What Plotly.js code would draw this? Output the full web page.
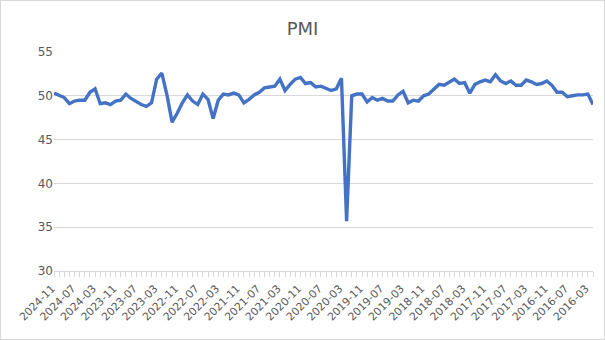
<!DOCTYPE html>
<html>
<head>
<meta charset="utf-8">
<script src="https://cdn.plot.ly/plotly-3.0.1.min.js"></script>
<style>
  html, body { margin: 0; padding: 0; background: #fff; }
  #wrap { position: relative; width: 605px; height: 340px; }
  #chart { width: 605px; height: 340px; }
  #frame { position: absolute; left: 0; top: 0; width: 605px; height: 340px; box-sizing: border-box; border: 1px solid #d9d9d9; pointer-events: none; }
</style>
</head>
<body>
<div id="wrap"><div id="chart"></div><div id="frame"></div></div>
<script>
// Months, newest first (as in the reference axis)
const months = [
  "2024-11","2024-10","2024-09","2024-08","2024-07","2024-06","2024-05","2024-04","2024-03","2024-02","2024-01",
  "2023-12","2023-11","2023-10","2023-09","2023-08","2023-07","2023-06","2023-05","2023-04","2023-03","2023-02","2023-01",
  "2022-12","2022-11","2022-10","2022-09","2022-08","2022-07","2022-06","2022-05","2022-04","2022-03","2022-02","2022-01",
  "2021-12","2021-11","2021-10","2021-09","2021-08","2021-07","2021-06","2021-05","2021-04","2021-03","2021-02","2021-01",
  "2020-12","2020-11","2020-10","2020-09","2020-08","2020-07","2020-06","2020-05","2020-04","2020-03","2020-02","2020-01",
  "2019-12","2019-11","2019-10","2019-09","2019-08","2019-07","2019-06","2019-05","2019-04","2019-03","2019-02","2019-01",
  "2018-12","2018-11","2018-10","2018-09","2018-08","2018-07","2018-06","2018-05","2018-04","2018-03","2018-02","2018-01",
  "2017-12","2017-11","2017-10","2017-09","2017-08","2017-07","2017-06","2017-05","2017-04","2017-03","2017-02","2017-01",
  "2016-12","2016-11","2016-10","2016-09","2016-08","2016-07","2016-06","2016-05","2016-04","2016-03","2016-02"
];
const pmi = [
  50.3,50.1,49.8,49.1,49.4,49.5,49.5,50.4,50.8,49.1,49.2,
  49.0,49.4,49.5,50.2,49.7,49.3,49.0,48.8,49.2,51.9,52.6,50.1,
  47.0,48.0,49.2,50.1,49.4,49.0,50.2,49.6,47.4,49.5,50.2,50.1,
  50.3,50.1,49.2,49.6,50.1,50.4,50.9,51.0,51.1,51.9,50.6,51.3,
  51.9,52.1,51.4,51.5,51.0,51.1,50.9,50.6,50.8,52.0,35.7,50.0,
  50.2,50.2,49.3,49.8,49.5,49.7,49.4,49.4,50.1,50.5,49.2,49.5,
  49.4,50.0,50.2,50.8,51.3,51.2,51.5,51.9,51.4,51.5,50.3,51.3,
  51.6,51.8,51.6,52.4,51.7,51.4,51.7,51.2,51.2,51.8,51.6,51.3,
  51.4,51.7,51.2,50.4,50.4,49.9,50.0,50.1,50.1,50.2,49.0
];
const labelEvery = 4;
const yTicks = [30, 35, 40, 45, 50, 55];

const xIdx = months.map((m, i) => i);
const tickIdx = xIdx.filter(i => i % labelEvery === 0);
const tickText = tickIdx.map(i => months[i]);

const grey = '#595959';
const light = '#d9d9d9';

Plotly.newPlot('chart', [{
  type: 'scatter',
  mode: 'lines',
  x: xIdx,
  y: pmi,
  text: months,
  line: { color: '#4472C4', width: 3.4, shape: 'linear' },
  hoverinfo: 'text+y'
}], {
  width: 605,
  height: 340,
  margin: { l: 54, r: 12, t: 52, b: 69 },
  paper_bgcolor: '#ffffff',
  plot_bgcolor: '#ffffff',
  font: { family: 'DejaVu Sans, sans-serif', color: grey },
  showlegend: false,
  title: {
    text: 'PMI',
    font: { family: 'DejaVu Sans, sans-serif', size: 18, color: grey },
    x: 0.5, xanchor: 'center',
    y: 1 - 29 / 340, yanchor: 'middle'
  },
  xaxis: {
    type: 'linear',
    range: [0, months.length - 1],
    tickmode: 'array',
    tickvals: tickIdx,
    ticktext: tickText,
    tickangle: -45,
    tickfont: { size: 10.8, color: grey },
    ticklabelshift: -2,
    ticklabelstandoff: 1,
    ticks: 'outside',
    ticklen: 5,
    tickcolor: light,
    minor: { dtick: 1, tick0: 0, ticks: 'outside', ticklen: 5, tickcolor: light, showgrid: false },
    showgrid: false,
    zeroline: false,
    showline: true,
    linecolor: light,
    linewidth: 1
  },
  yaxis: {
    range: [30, 55],
    tickmode: 'array',
    tickvals: yTicks,
    ticktext: yTicks.map(String),
    tickfont: { size: 12, color: grey },
    showgrid: true,
    gridcolor: light,
    gridwidth: 1,
    zeroline: false,
    showline: false,
    ticks: ''
  }
}, { staticPlot: true, displayModeBar: false });
</script>
</body>
</html>
